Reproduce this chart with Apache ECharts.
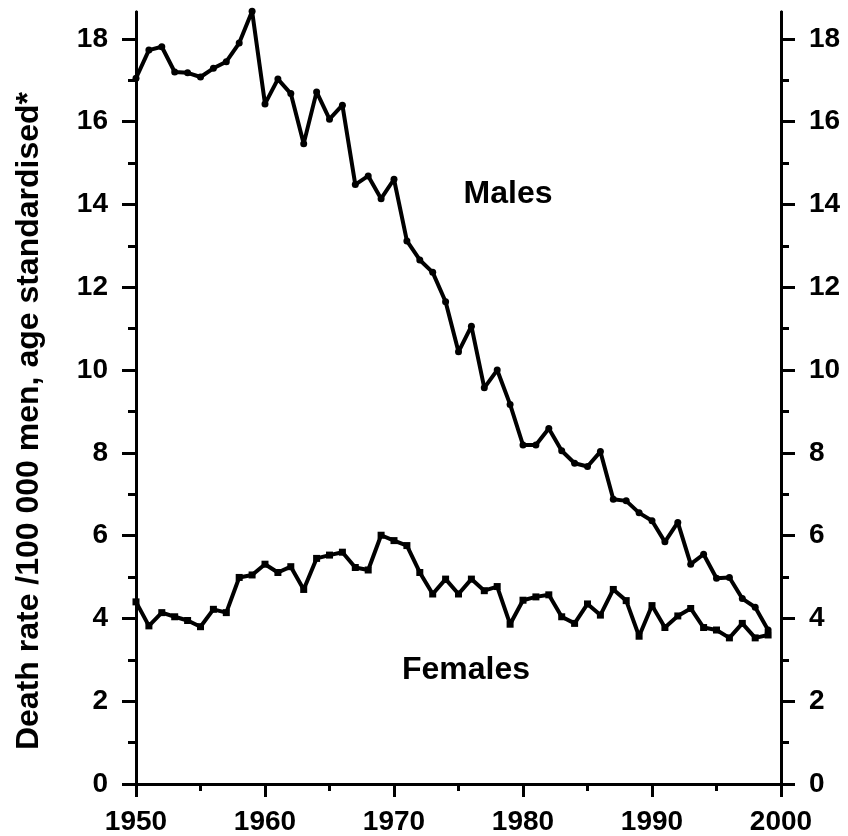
<!DOCTYPE html>
<html lang="en">
<head>
  <meta charset="UTF-8">
  <title>death rate chart</title>
  <script src="https://cdn.jsdelivr.net/npm/echarts@6/dist/echarts.min.js"></script>
  <style>
    html, body { margin: 0; height: 100%; background: #fff; }
    #chart { width: 848px; height: 836px; }
  </style>
</head>
<body>
  <div id="chart"></div>
  <script type="text/javascript">
    // years shown on the x axis
    var years = [1950, 1951, 1952, 1953, 1954, 1955, 1956, 1957, 1958, 1959,
                 1960, 1961, 1962, 1963, 1964, 1965, 1966, 1967, 1968, 1969,
                 1970, 1971, 1972, 1973, 1974, 1975, 1976, 1977, 1978, 1979,
                 1980, 1981, 1982, 1983, 1984, 1985, 1986, 1987, 1988, 1989,
                 1990, 1991, 1992, 1993, 1994, 1995, 1996, 1997, 1998, 1999];

    var males = [17.05, 17.73, 17.81, 17.2, 17.18, 17.08, 17.29, 17.45, 17.9, 18.67,
                 16.43, 17.03, 16.68, 15.47, 16.72, 16.06, 16.4, 14.48, 14.69, 14.14,
                 14.61, 13.12, 12.66, 12.36, 11.65, 10.44, 11.06, 9.57, 10.0, 9.17,
                 8.19, 8.19, 8.59, 8.05, 7.75, 7.67, 8.03, 6.88, 6.84, 6.55,
                 6.36, 5.85, 6.32, 5.31, 5.55, 4.97, 4.99, 4.48, 4.27, 3.72];

    var females = [4.4, 3.82, 4.14, 4.04, 3.95, 3.8, 4.22, 4.14, 4.99, 5.05,
                   5.31, 5.11, 5.25, 4.7, 5.45, 5.53, 5.6, 5.23, 5.17, 6.01,
                   5.88, 5.76, 5.11, 4.59, 4.95, 4.59, 4.95, 4.67, 4.77, 3.86,
                   4.44, 4.52, 4.57, 4.04, 3.88, 4.35, 4.08, 4.7, 4.43, 3.57,
                   4.31, 3.78, 4.06, 4.24, 3.78, 3.72, 3.53, 3.88, 3.53, 3.6];

    // y ticks: long ones with labels, short ones in between
    var yMajor = [0, 2, 4, 6, 8, 10, 12, 14, 16, 18];
    var yMinor = [1, 3, 5, 7, 9, 11, 13, 15, 17];
    var yTop = 18.65;

    var font = "'Liberation Sans', Arial, sans-serif";
    var ink = '#000';

    function pairs(vals) {
      return years.map(function (y, i) { return [y, vals[i]]; });
    }

    function yAxis(pos, ticks, len, labels) {
      return {
        type: 'value',
        position: pos,
        min: 0,
        max: yTop,
        axisLine: { show: true, lineStyle: { color: ink, width: 3 } },
        axisTick: { show: true, customValues: ticks, length: len, lineStyle: { color: ink, width: 3 } },
        axisLabel: labels ? {
          customValues: ticks,
          margin: 28,
          color: ink,
          fontFamily: font,
          fontWeight: 'bold',
          fontSize: 28
        } : { show: false },
        splitLine: { show: false }
      };
    }

    var chart = echarts.init(document.getElementById('chart'));

    var option = {
      animation: false,
      backgroundColor: '#fff',
      grid: { left: 136, right: 67, top: 12, bottom: 52, outerBoundsMode: 'none' },
      xAxis: {
        type: 'value',
        min: 1950,
        max: 2000,
        interval: 10,
        axisLine: { onZero: false, lineStyle: { color: ink, width: 3 } },
        axisTick: { length: 13, lineStyle: { color: ink, width: 3 } },
        minorTick: { show: true, splitNumber: 2, length: 7, lineStyle: { color: ink, width: 3 } },
        axisLabel: {
          margin: 24,
          color: ink,
          fontFamily: font,
          fontWeight: 'bold',
          fontSize: 28,
          formatter: function (v) { return String(v); }
        },
        splitLine: { show: false }
      },
      yAxis: [
        yAxis('left', yMajor, 14, true),
        yAxis('left', yMinor, 8, false),
        yAxis('right', yMajor, 14, true),
        yAxis('right', yMinor, 8, false)
      ],
      graphic: [
        {
          type: 'text',
          x: 29,
          y: 421,
          rotation: Math.PI / 2,
          style: {
            text: 'Death rate /100 000 men, age standardised*',
            fill: ink,
            font: 'bold 32px ' + font,
            align: 'center',
            verticalAlign: 'middle'
          }
        },
        {
          type: 'text',
          x: 508,
          y: 194,
          style: { text: 'Males', fill: ink, font: 'bold 32px ' + font, align: 'center', verticalAlign: 'middle' }
        },
        {
          type: 'text',
          x: 466,
          y: 670,
          style: { text: 'Females', fill: ink, font: 'bold 32px ' + font, align: 'center', verticalAlign: 'middle' }
        }
      ],
      series: [{
        name: 'Males',
        type: 'line',
        yAxisIndex: 0,
        clip: false,
        data: pairs(males),
        symbol: 'circle',
        symbolSize: 7,
        itemStyle: { color: ink },
        lineStyle: { color: ink, width: 4 }
      }, {
        name: 'Females',
        type: 'line',
        yAxisIndex: 0,
        clip: false,
        data: pairs(females),
        symbol: 'rect',
        symbolSize: 7,
        itemStyle: { color: ink },
        lineStyle: { color: ink, width: 4 }
      }]
    };

    chart.setOption(option);
  </script>
</body>
</html>
